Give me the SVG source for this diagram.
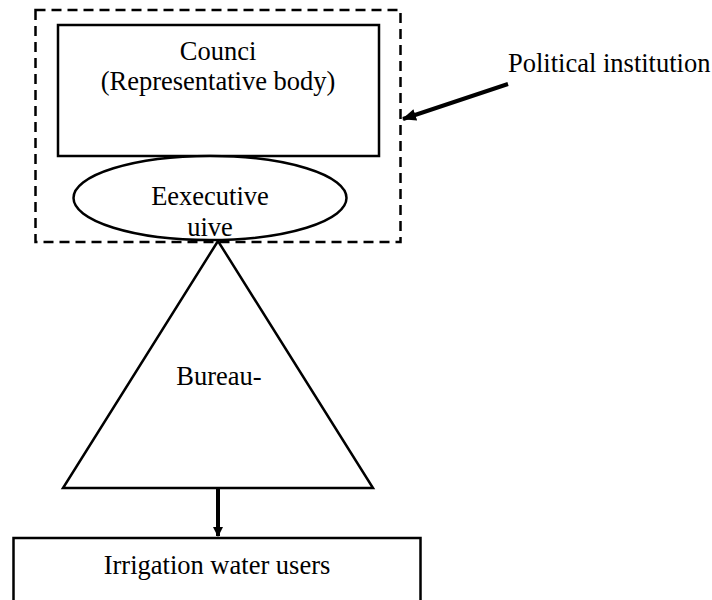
<svg xmlns="http://www.w3.org/2000/svg" width="712" height="600" viewBox="0 0 712 600">
<defs>
<style>
.s{fill:#fff;stroke:#000;stroke-width:2.5}
.t{font-family:"Liberation Serif","Times New Roman",serif;font-size:26.5px;fill:#000}
.c{text-anchor:middle}
.l{stroke:#000;stroke-width:4;fill:none}
</style>
<marker id="ah" markerWidth="10" markerHeight="10" refX="9" refY="5" orient="auto" markerUnits="userSpaceOnUse" viewBox="0 0 10 10">
<path d="M0,0 L10,5 L0,10 Z" fill="#000"/>
</marker>
<marker id="ah2" markerWidth="14" markerHeight="12" refX="13" refY="6" orient="auto" markerUnits="userSpaceOnUse" viewBox="0 0 14 12">
<path d="M0,0 L14,6 L0,12 Z" fill="#000"/>
</marker>
</defs>
<g id="political-institution">
<rect x="35.5" y="10" width="365" height="232" fill="none" stroke="#000" stroke-width="2.5" stroke-dasharray="10,6"/>
</g>
<g id="council">
<rect class="s" x="58" y="25" width="321" height="131"/>
<text class="t c" x="218" y="60">Counci</text>
<text class="t c" x="218" y="90">(Representative body)</text>
</g>
<g id="executive">
<ellipse class="s" cx="210" cy="198" rx="136.5" ry="42"/>
<text class="t c" x="210" y="205">Eexecutive</text>
<text class="t c" x="210" y="236">uive</text>
</g>
<g id="bureau">
<polygon class="s" points="218,241 63,488 373,488"/>
<text class="t c" x="219" y="385">Bureau-</text>
</g>
<g id="users">
<rect class="s" x="13.5" y="538" width="407" height="80"/>
<text class="t c" x="217" y="574">Irrigation water users</text>
</g>
<g id="label">
<text class="t" x="508" y="72">Political institution</text>
</g>
<g id="connectors">
<line class="l" x1="218" y1="489" x2="218" y2="536" stroke-width="3.5" marker-end="url(#ah)"/>
<line class="l" x1="508" y1="84" x2="403" y2="119" stroke-width="3.5" marker-end="url(#ah2)"/>
</g>
</svg>
